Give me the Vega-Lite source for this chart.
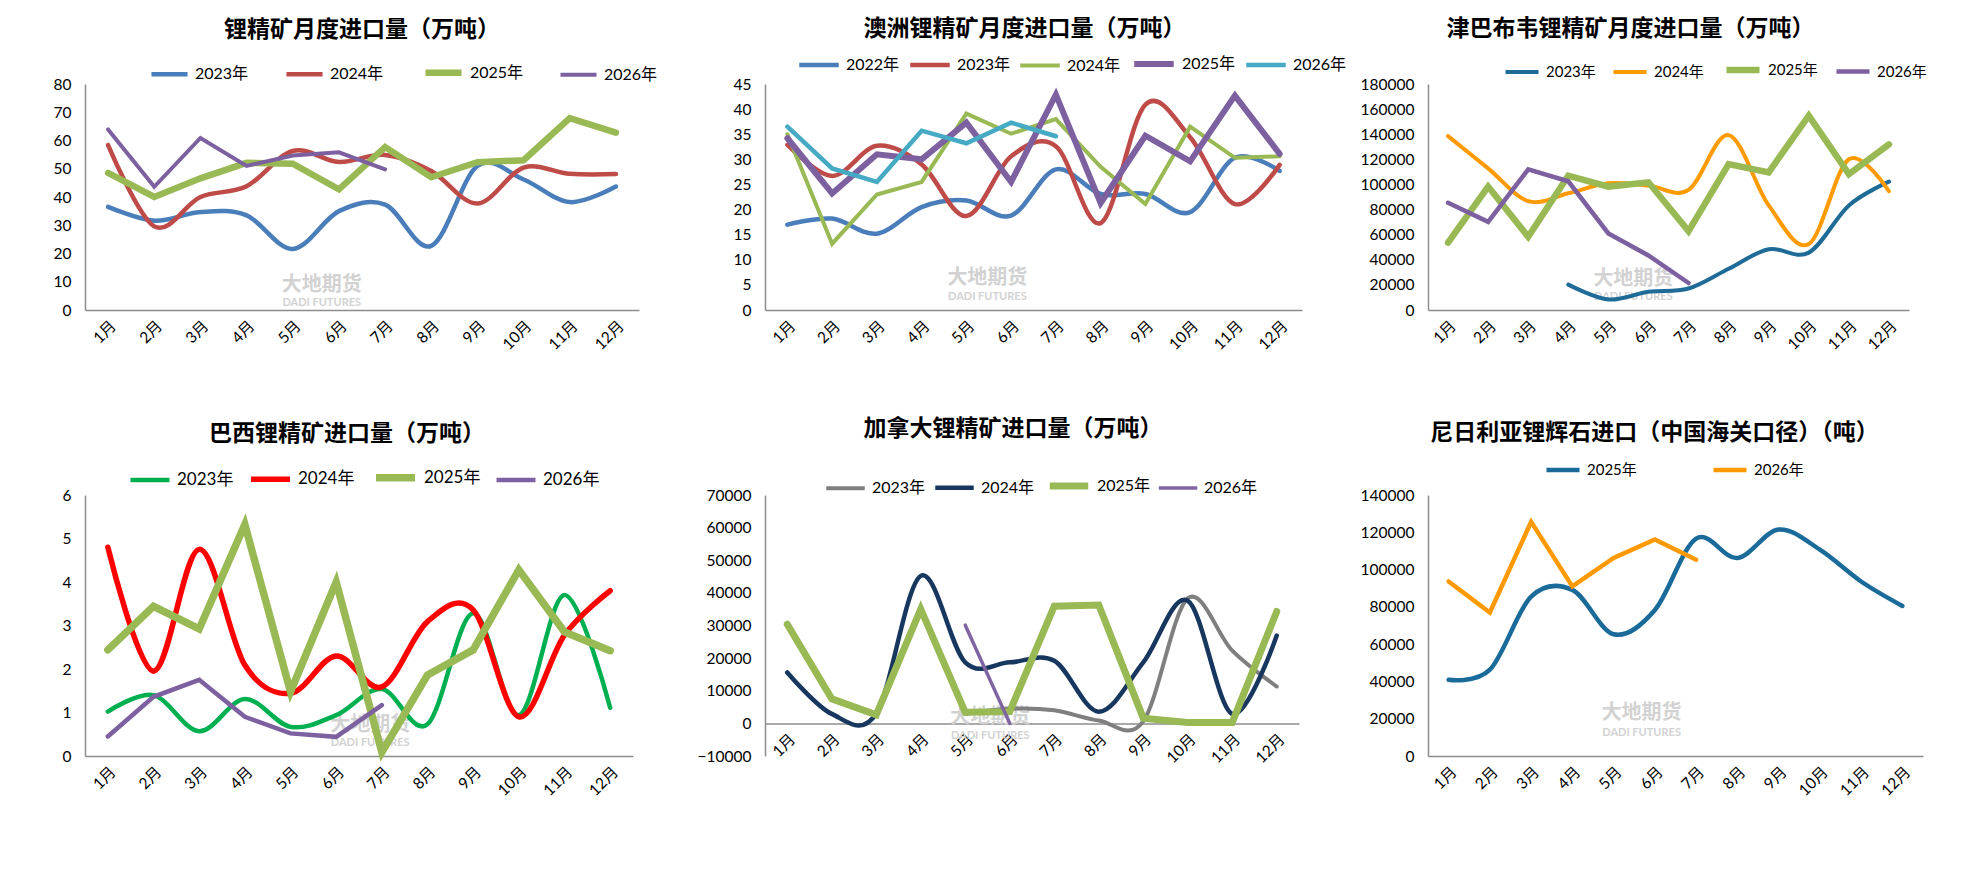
{
  "$schema": "https://vega.github.io/schema/vega-lite/v6.json",
  "background": "white",
  "padding": {"left": 53, "top": 18, "right": 5, "bottom": 5},
  "columns": 3,
  "bounds": "flush",
  "align": "each",
  "spacing": {"row": 185, "column": 126},
  "resolve": {
    "scale": {"color": "independent", "strokeWidth": "independent", "x": "independent", "y": "independent"},
    "legend": {"color": "independent", "strokeWidth": "independent"}
  },
  "config": {
    "view": {"stroke": null},
    "font": "Lato",
    "axis": {
      "title": null,
      "ticks": false,
      "grid": false,
      "labelFont": "Lato, Noto Sans CJK SC",
      "labelFontSize": 15.5,
      "labelColor": "#000000",
      "domainColor": "#8c8c8c",
      "domainWidth": 1.5
    },
    "axisX": {"labelAngle": -45, "labelPadding": 8},
    "axisY": {"labelPadding": 14},
    "legend": {
      "orient": "none",
      "direction": "horizontal",
      "symbolType": "stroke",
      "symbolStrokeWidth": 4,
      "labelFont": "Lato, Noto Sans CJK SC",
      "labelFontSize": 16,
      "labelColor": "#000000",
      "labelOffset": 5
    },
    "title": {
      "font": "Noto Sans CJK SC",
      "fontSize": 23,
      "fontWeight": "bold",
      "color": "#000000",
      "anchor": "middle",
      "frame": "group"
    },
    "line": {"strokeCap": "round"},
    "text": {"font": "Noto Sans CJK SC", "fontWeight": "bold", "align": "center", "color": "#d2d2d2"}
  },
  "datasets": {
    "d1": [
      {"m": "1月", "year": "2023年", "v": 36.5}, {"m": "2月", "year": "2023年", "v": 31.6}, {"m": "3月", "year": "2023年", "v": 34.7}, {"m": "4月", "year": "2023年", "v": 33.5}, {"m": "5月", "year": "2023年", "v": 21.6}, {"m": "6月", "year": "2023年", "v": 35}, {"m": "7月", "year": "2023年", "v": 37.3}, {"m": "8月", "year": "2023年", "v": 22.7}, {"m": "9月", "year": "2023年", "v": 51}, {"m": "10月", "year": "2023年", "v": 46.2}, {"m": "11月", "year": "2023年", "v": 38.2}, {"m": "12月", "year": "2023年", "v": 43.7},
      {"m": "1月", "year": "2024年", "v": 58.4}, {"m": "2月", "year": "2024年", "v": 29.6}, {"m": "3月", "year": "2024年", "v": 40}, {"m": "4月", "year": "2024年", "v": 43.8}, {"m": "5月", "year": "2024年", "v": 56.3}, {"m": "6月", "year": "2024年", "v": 52.4}, {"m": "7月", "year": "2024年", "v": 54.9}, {"m": "8月", "year": "2024年", "v": 49.2}, {"m": "9月", "year": "2024年", "v": 37.7}, {"m": "10月", "year": "2024年", "v": 50.4}, {"m": "11月", "year": "2024年", "v": 48.2}, {"m": "12月", "year": "2024年", "v": 48.1},
      {"m": "1月", "year": "2025年", "v": 48.5}, {"m": "2月", "year": "2025年", "v": 40}, {"m": "3月", "year": "2025年", "v": 46.6}, {"m": "4月", "year": "2025年", "v": 52.1}, {"m": "5月", "year": "2025年", "v": 51.8}, {"m": "6月", "year": "2025年", "v": 42.7}, {"m": "7月", "year": "2025年", "v": 57.7}, {"m": "8月", "year": "2025年", "v": 47}, {"m": "9月", "year": "2025年", "v": 52.3}, {"m": "10月", "year": "2025年", "v": 53}, {"m": "11月", "year": "2025年", "v": 67.9}, {"m": "12月", "year": "2025年", "v": 62.8},
      {"m": "1月", "year": "2026年", "v": 63.9}, {"m": "2月", "year": "2026年", "v": 43.6}, {"m": "3月", "year": "2026年", "v": 60.9}, {"m": "4月", "year": "2026年", "v": 51}, {"m": "5月", "year": "2026年", "v": 54.7}, {"m": "6月", "year": "2026年", "v": 55.8}, {"m": "7月", "year": "2026年", "v": 49.8}
    ],
    "d2": [
      {"m": "1月", "year": "2022年", "v": 17}, {"m": "2月", "year": "2022年", "v": 18.2}, {"m": "3月", "year": "2022年", "v": 15.2}, {"m": "4月", "year": "2022年", "v": 20.5}, {"m": "5月", "year": "2022年", "v": 21.8}, {"m": "6月", "year": "2022年", "v": 18.8}, {"m": "7月", "year": "2022年", "v": 28}, {"m": "8月", "year": "2022年", "v": 23.1}, {"m": "9月", "year": "2022年", "v": 23.1}, {"m": "10月", "year": "2022年", "v": 19.5}, {"m": "11月", "year": "2022年", "v": 30.3}, {"m": "12月", "year": "2022年", "v": 27.7},
      {"m": "1月", "year": "2023年", "v": 32.9}, {"m": "2月", "year": "2023年", "v": 26.7}, {"m": "3月", "year": "2023年", "v": 32.7}, {"m": "4月", "year": "2023年", "v": 29}, {"m": "5月", "year": "2023年", "v": 18.7}, {"m": "6月", "year": "2023年", "v": 30.6}, {"m": "7月", "year": "2023年", "v": 32.6}, {"m": "8月", "year": "2023年", "v": 17.3}, {"m": "9月", "year": "2023年", "v": 40.9}, {"m": "10月", "year": "2023年", "v": 34.4}, {"m": "11月", "year": "2023年", "v": 21.1}, {"m": "12月", "year": "2023年", "v": 28.9},
      {"m": "1月", "year": "2024年", "v": 35}, {"m": "2月", "year": "2024年", "v": 13.2}, {"m": "3月", "year": "2024年", "v": 23}, {"m": "4月", "year": "2024年", "v": 25.5}, {"m": "5月", "year": "2024年", "v": 39.1}, {"m": "6月", "year": "2024年", "v": 35.1}, {"m": "7月", "year": "2024年", "v": 38}, {"m": "8月", "year": "2024年", "v": 28.5}, {"m": "9月", "year": "2024年", "v": 21.1}, {"m": "10月", "year": "2024年", "v": 36.5}, {"m": "11月", "year": "2024年", "v": 30.3}, {"m": "12月", "year": "2024年", "v": 30.6},
      {"m": "1月", "year": "2025年", "v": 34.2}, {"m": "2月", "year": "2025年", "v": 23.2}, {"m": "3月", "year": "2025年", "v": 31}, {"m": "4月", "year": "2025年", "v": 30}, {"m": "5月", "year": "2025年", "v": 37.3}, {"m": "6月", "year": "2025年", "v": 25.5}, {"m": "7月", "year": "2025年", "v": 42.9}, {"m": "8月", "year": "2025年", "v": 21.3}, {"m": "9月", "year": "2025年", "v": 34.7}, {"m": "10月", "year": "2025年", "v": 29.6}, {"m": "11月", "year": "2025年", "v": 42.7}, {"m": "12月", "year": "2025年", "v": 31.1},
      {"m": "1月", "year": "2026年", "v": 36.5}, {"m": "2月", "year": "2026年", "v": 28.2}, {"m": "3月", "year": "2026年", "v": 25.5}, {"m": "4月", "year": "2026年", "v": 35.7}, {"m": "5月", "year": "2026年", "v": 33.2}, {"m": "6月", "year": "2026年", "v": 37.3}, {"m": "7月", "year": "2026年", "v": 34.6}
    ],
    "d3": [
      {"m": "4月", "year": "2023年", "v": 20200}, {"m": "5月", "year": "2023年", "v": 8400}, {"m": "6月", "year": "2023年", "v": 14500}, {"m": "7月", "year": "2023年", "v": 17100}, {"m": "8月", "year": "2023年", "v": 32800}, {"m": "9月", "year": "2023年", "v": 48400}, {"m": "10月", "year": "2023年", "v": 45700}, {"m": "11月", "year": "2023年", "v": 83300}, {"m": "12月", "year": "2023年", "v": 102200},
      {"m": "1月", "year": "2024年", "v": 138500}, {"m": "2月", "year": "2024年", "v": 112800}, {"m": "3月", "year": "2024年", "v": 86700}, {"m": "4月", "year": "2024年", "v": 93000}, {"m": "5月", "year": "2024年", "v": 100900}, {"m": "6月", "year": "2024年", "v": 99100}, {"m": "7月", "year": "2024年", "v": 95700}, {"m": "8月", "year": "2024年", "v": 139300}, {"m": "9月", "year": "2024年", "v": 83300}, {"m": "10月", "year": "2024年", "v": 52600}, {"m": "11月", "year": "2024年", "v": 120100}, {"m": "12月", "year": "2024年", "v": 94600},
      {"m": "1月", "year": "2025年", "v": 53600}, {"m": "2月", "year": "2025年", "v": 98300}, {"m": "3月", "year": "2025年", "v": 58300}, {"m": "4月", "year": "2025年", "v": 107000}, {"m": "5月", "year": "2025年", "v": 98300}, {"m": "6月", "year": "2025年", "v": 101700}, {"m": "7月", "year": "2025年", "v": 62800}, {"m": "8月", "year": "2025年", "v": 116200}, {"m": "9月", "year": "2025年", "v": 109600}, {"m": "10月", "year": "2025年", "v": 154800}, {"m": "11月", "year": "2025年", "v": 108300}, {"m": "12月", "year": "2025年", "v": 131900},
      {"m": "1月", "year": "2026年", "v": 85400}, {"m": "2月", "year": "2026年", "v": 70200}, {"m": "3月", "year": "2026年", "v": 112000}, {"m": "4月", "year": "2026年", "v": 102500}, {"m": "5月", "year": "2026年", "v": 61000}, {"m": "6月", "year": "2026年", "v": 43400}, {"m": "7月", "year": "2026年", "v": 21500}
    ],
    "d4": [
      {"m": "1月", "year": "2023年", "v": 1.02}, {"m": "2月", "year": "2023年", "v": 1.4}, {"m": "3月", "year": "2023年", "v": 0.57}, {"m": "4月", "year": "2023年", "v": 1.31}, {"m": "5月", "year": "2023年", "v": 0.67}, {"m": "6月", "year": "2023年", "v": 0.94}, {"m": "7月", "year": "2023年", "v": 1.54}, {"m": "8月", "year": "2023年", "v": 0.73}, {"m": "9月", "year": "2023年", "v": 3.28}, {"m": "10月", "year": "2023年", "v": 0.94}, {"m": "11月", "year": "2023年", "v": 3.7}, {"m": "12月", "year": "2023年", "v": 1.11},
      {"m": "1月", "year": "2024年", "v": 4.8}, {"m": "2月", "year": "2024年", "v": 1.95}, {"m": "3月", "year": "2024年", "v": 4.75}, {"m": "4月", "year": "2024年", "v": 2.09}, {"m": "5月", "year": "2024年", "v": 1.44}, {"m": "6月", "year": "2024年", "v": 2.3}, {"m": "7月", "year": "2024年", "v": 1.59}, {"m": "8月", "year": "2024年", "v": 3.09}, {"m": "9月", "year": "2024年", "v": 3.36}, {"m": "10月", "year": "2024年", "v": 0.9}, {"m": "11月", "year": "2024年", "v": 2.78}, {"m": "12月", "year": "2024年", "v": 3.8},
      {"m": "1月", "year": "2025年", "v": 2.44}, {"m": "2月", "year": "2025年", "v": 3.44}, {"m": "3月", "year": "2025年", "v": 2.92}, {"m": "4月", "year": "2025年", "v": 5.32}, {"m": "5月", "year": "2025年", "v": 1.48}, {"m": "6月", "year": "2025年", "v": 4}, {"m": "7月", "year": "2025年", "v": 0.09}, {"m": "8月", "year": "2025年", "v": 1.86}, {"m": "9月", "year": "2025年", "v": 2.44}, {"m": "10月", "year": "2025年", "v": 4.28}, {"m": "11月", "year": "2025年", "v": 2.85}, {"m": "12月", "year": "2025年", "v": 2.42},
      {"m": "1月", "year": "2026年", "v": 0.45}, {"m": "2月", "year": "2026年", "v": 1.36}, {"m": "3月", "year": "2026年", "v": 1.75}, {"m": "4月", "year": "2026年", "v": 0.9}, {"m": "5月", "year": "2026年", "v": 0.52}, {"m": "6月", "year": "2026年", "v": 0.44}, {"m": "7月", "year": "2026年", "v": 1.17}
    ],
    "d5": [
      {"m": "5月", "year": "2023年", "v": 2900}, {"m": "6月", "year": "2023年", "v": 4500}, {"m": "7月", "year": "2023年", "v": 4000}, {"m": "8月", "year": "2023年", "v": 900}, {"m": "9月", "year": "2023年", "v": 600}, {"m": "10月", "year": "2023年", "v": 38300}, {"m": "11月", "year": "2023年", "v": 22300}, {"m": "12月", "year": "2023年", "v": 11300},
      {"m": "1月", "year": "2024年", "v": 15600}, {"m": "2月", "year": "2024年", "v": 2900}, {"m": "3月", "year": "2024年", "v": 3000}, {"m": "4月", "year": "2024年", "v": 45200}, {"m": "5月", "year": "2024年", "v": 18700}, {"m": "6月", "year": "2024年", "v": 18700}, {"m": "7月", "year": "2024年", "v": 19200}, {"m": "8月", "year": "2024年", "v": 3600}, {"m": "9月", "year": "2024年", "v": 18700}, {"m": "10月", "year": "2024年", "v": 37600}, {"m": "11月", "year": "2024年", "v": 2900}, {"m": "12月", "year": "2024年", "v": 26900},
      {"m": "1月", "year": "2025年", "v": 30400}, {"m": "2月", "year": "2025年", "v": 7500}, {"m": "3月", "year": "2025年", "v": 2600}, {"m": "4月", "year": "2025年", "v": 35000}, {"m": "5月", "year": "2025年", "v": 3400}, {"m": "6月", "year": "2025年", "v": 3600}, {"m": "7月", "year": "2025年", "v": 35900}, {"m": "8月", "year": "2025年", "v": 36300}, {"m": "9月", "year": "2025年", "v": 1600}, {"m": "10月", "year": "2025年", "v": 300}, {"m": "11月", "year": "2025年", "v": 300}, {"m": "12月", "year": "2025年", "v": 34300},
      {"m": "5月", "year": "2026年", "v": 30100}, {"m": "6月", "year": "2026年", "v": 0}
    ],
    "d6": [
      {"m": "1月", "year": "2025年", "v": 40900}, {"m": "2月", "year": "2025年", "v": 46300}, {"m": "3月", "year": "2025年", "v": 85500}, {"m": "4月", "year": "2025年", "v": 89100}, {"m": "5月", "year": "2025年", "v": 65300}, {"m": "6月", "year": "2025年", "v": 78300}, {"m": "7月", "year": "2025年", "v": 116600}, {"m": "8月", "year": "2025年", "v": 106200}, {"m": "9月", "year": "2025年", "v": 121500}, {"m": "10月", "year": "2025年", "v": 110700}, {"m": "11月", "year": "2025年", "v": 93600}, {"m": "12月", "year": "2025年", "v": 80500},
      {"m": "1月", "year": "2026年", "v": 93600}, {"m": "2月", "year": "2026年", "v": 77000}, {"m": "3月", "year": "2026年", "v": 125600}, {"m": "4月", "year": "2026年", "v": 91000}, {"m": "5月", "year": "2026年", "v": 106200}, {"m": "6月", "year": "2026年", "v": 116100}, {"m": "7月", "year": "2026年", "v": 105300}
    ]
  },
  "concat": [
    {
      "width": 554, "height": 226,
      "title": {"text": "锂精矿月度进口量（万吨）", "dx": 0, "offset": 9},
      "data": {"name": "d1"},
      "encoding": {
        "x": {"field": "m", "type": "ordinal", "scale": {"type": "point", "domain": ["1月","2月","3月","4月","5月","6月","7月","8月","9月","10月","11月","12月"], "padding": 0.5}},
        "y": {"field": "v", "type": "quantitative", "scale": {"domain": [0, 80], "nice": false}, "axis": {"values": [0,10,20,30,40,50,60,70,80]}},
        "color": {"field": "year", "type": "nominal", "scale": {"domain": ["2023年","2024年","2025年","2026年"], "range": ["#4a7ebb","#be4b48","#98b954","#7d60a0"]}, "legend": {"title": null, "legendX": 64, "legendY": -33, "columnPadding": 28, "symbolSize": 1300}},
        "strokeWidth": {"field": "year", "type": "nominal", "scale": {"type": "ordinal", "domain": ["2023年","2024年","2025年","2026年"], "range": [4.5, 4.5, 6.5, 4]}, "legend": null}
      },
      "layer": [
        {"data": {"values": [{"m": "5月", "v": 9.0, "t": "大地期货"}]}, "mark": {"type": "text", "fontSize": 20, "dx": 29}, "encoding": {"text": {"field": "t"}, "color": {"value": "#d2d2d2"}, "strokeWidth": {"value": 0}}},
        {"data": {"values": [{"m": "5月", "v": 2.4, "t": "DADI FUTURES"}]}, "mark": {"type": "text", "fontSize": 11, "dx": 29, "font": "Lato"}, "encoding": {"text": {"field": "t"}, "color": {"value": "#d2d2d2"}, "strokeWidth": {"value": 0}}},
        {"transform": [{"filter": {"field": "year", "oneOf": ["2023年","2024年"]}}], "mark": {"type": "line", "interpolate": "cardinal"}},
        {"transform": [{"filter": {"field": "year", "oneOf": ["2025年","2026年"]}}], "mark": {"type": "line"}}
      ]
    },
    {
      "width": 537, "height": 226,
      "title": {"text": "澳洲锂精矿月度进口量（万吨）", "dx": -9, "offset": 0},
      "data": {"name": "d2"},
      "encoding": {
        "x": {"field": "m", "type": "ordinal", "scale": {"type": "point", "domain": ["1月","2月","3月","4月","5月","6月","7月","8月","9月","10月","11月","12月"], "padding": 0.5}},
        "y": {"field": "v", "type": "quantitative", "scale": {"domain": [0, 45], "nice": false}, "axis": {"values": [0,5,10,15,20,25,30,35,40,45]}},
        "color": {"field": "year", "type": "nominal", "scale": {"domain": ["2022年","2023年","2024年","2025年","2026年"], "range": ["#4a7ebb","#be4b48","#98b954","#7d60a0","#46aac5"]}, "legend": {"title": null, "legendX": 32, "legendY": -43, "columnPadding": 1, "symbolSize": 1560}},
        "strokeWidth": {"field": "year", "type": "nominal", "scale": {"type": "ordinal", "domain": ["2022年","2023年","2024年","2025年","2026年"], "range": [4.5, 4.5, 4, 6, 4.5]}, "legend": null}
      },
      "layer": [
        {"data": {"values": [{"m": "5月", "v": 6.3, "t": "大地期货"}]}, "mark": {"type": "text", "fontSize": 20, "dx": 21}, "encoding": {"text": {"field": "t"}, "color": {"value": "#d2d2d2"}, "strokeWidth": {"value": 0}}},
        {"data": {"values": [{"m": "5月", "v": 2.6, "t": "DADI FUTURES"}]}, "mark": {"type": "text", "fontSize": 11, "dx": 21, "font": "Lato"}, "encoding": {"text": {"field": "t"}, "color": {"value": "#d2d2d2"}, "strokeWidth": {"value": 0}}},
        {"transform": [{"filter": {"field": "year", "oneOf": ["2022年","2023年"]}}], "mark": {"type": "line", "interpolate": "cardinal"}},
        {"transform": [{"filter": {"field": "year", "oneOf": ["2024年","2025年","2026年"]}}], "mark": {"type": "line"}}
      ]
    },
    {
      "width": 481, "height": 226,
      "title": {"text": "津巴布韦锂精矿月度进口量（万吨）", "dx": -38, "offset": 9},
      "data": {"name": "d3"},
      "encoding": {
        "x": {"field": "m", "type": "ordinal", "scale": {"type": "point", "domain": ["1月","2月","3月","4月","5月","6月","7月","8月","9月","10月","11月","12月"], "padding": 0.5}},
        "y": {"field": "v", "type": "quantitative", "scale": {"domain": [0, 180000], "nice": false}, "axis": {"values": [0,20000,40000,60000,80000,100000,120000,140000,160000,180000], "format": "d"}},
        "color": {"field": "year", "type": "nominal", "scale": {"domain": ["2023年","2024年","2025年","2026年"], "range": ["#1f6b98","#ff9a00","#98b954","#7d60a0"]}, "legend": {"title": null, "legendX": 75, "legendY": -34, "columnPadding": 9, "symbolSize": 1090, "labelFontSize": 15}},
        "strokeWidth": {"field": "year", "type": "nominal", "scale": {"type": "ordinal", "domain": ["2023年","2024年","2025年","2026年"], "range": [4, 4, 6.5, 4.5]}, "legend": null}
      },
      "layer": [
        {"data": {"values": [{"m": "5月", "v": 25000, "t": "大地期货"}]}, "mark": {"type": "text", "fontSize": 20, "dx": 25}, "encoding": {"text": {"field": "t"}, "color": {"value": "#d2d2d2"}, "strokeWidth": {"value": 0}}},
        {"data": {"values": [{"m": "5月", "v": 10000, "t": "DADI FUTURES"}]}, "mark": {"type": "text", "fontSize": 11, "dx": 25, "font": "Lato"}, "encoding": {"text": {"field": "t"}, "color": {"value": "#d2d2d2"}, "strokeWidth": {"value": 0}}},
        {"transform": [{"filter": {"field": "year", "oneOf": ["2023年","2024年"]}}], "mark": {"type": "line", "interpolate": "cardinal"}},
        {"transform": [{"filter": {"field": "year", "oneOf": ["2025年","2026年"]}}], "mark": {"type": "line"}}
      ]
    },
    {
      "width": 548, "height": 261,
      "title": {"text": "巴西锂精矿进口量（万吨）", "dx": -12, "offset": 8},
      "data": {"name": "d4"},
      "encoding": {
        "x": {"field": "m", "type": "ordinal", "scale": {"type": "point", "domain": ["1月","2月","3月","4月","5月","6月","7月","8月","9月","10月","11月","12月"], "padding": 0.5}},
        "y": {"field": "v", "type": "quantitative", "scale": {"domain": [0, 6], "nice": false}, "axis": {"values": [0,1,2,3,4,5,6]}},
        "color": {"field": "year", "type": "nominal", "scale": {"domain": ["2023年","2024年","2025年","2026年"], "range": ["#00b050","#ff0000","#98b954","#7d60a0"]}, "legend": {"title": null, "legendX": 43, "legendY": -41, "columnPadding": 6, "symbolSize": 1520, "labelFontSize": 17}},
        "strokeWidth": {"field": "year", "type": "nominal", "scale": {"type": "ordinal", "domain": ["2023年","2024年","2025年","2026年"], "range": [4.5, 5.5, 7.5, 4.5]}, "legend": null}
      },
      "layer": [
        {"data": {"values": [{"m": "6月", "v": 0.72, "t": "大地期货"}]}, "mark": {"type": "text", "fontSize": 20, "dx": 34}, "encoding": {"text": {"field": "t"}, "color": {"value": "#d2d2d2"}, "strokeWidth": {"value": 0}}},
        {"data": {"values": [{"m": "6月", "v": 0.29, "t": "DADI FUTURES"}]}, "mark": {"type": "text", "fontSize": 11, "dx": 34, "font": "Lato"}, "encoding": {"text": {"field": "t"}, "color": {"value": "#d2d2d2"}, "strokeWidth": {"value": 0}}},
        {"transform": [{"filter": {"field": "year", "oneOf": ["2023年","2024年"]}}], "mark": {"type": "line", "interpolate": "cardinal"}},
        {"transform": [{"filter": {"field": "year", "oneOf": ["2025年","2026年"]}}], "mark": {"type": "line"}}
      ]
    },
    {
      "width": 534, "height": 261,
      "title": {"text": "加拿大锂精矿进口量（万吨）", "dx": -19, "offset": 22},
      "data": {"name": "d5"},
      "encoding": {
        "x": {"field": "m", "type": "ordinal", "scale": {"type": "point", "domain": ["1月","2月","3月","4月","5月","6月","7月","8月","9月","10月","11月","12月"], "padding": 0.5}, "axis": {"offset": -32.6}},
        "y": {"field": "v", "type": "quantitative", "scale": {"domain": [-10000, 70000], "nice": false}, "axis": {"values": [-10000,0,10000,20000,30000,40000,50000,60000,70000], "format": "d"}},
        "color": {"field": "year", "type": "nominal", "scale": {"domain": ["2023年","2024年","2025年","2026年"], "range": ["#7f7f7f","#17375e","#98b954","#8064a2"]}, "legend": {"title": null, "legendX": 59, "legendY": -32, "columnPadding": 0, "symbolSize": 1480}},
        "strokeWidth": {"field": "year", "type": "nominal", "scale": {"type": "ordinal", "domain": ["2023年","2024年","2025年","2026年"], "range": [4, 4.5, 7, 3.5]}, "legend": null}
      },
      "layer": [
        {"data": {"values": [{"m": "5月", "v": 1900, "t": "大地期货"}]}, "mark": {"type": "text", "fontSize": 20, "dx": 25}, "encoding": {"text": {"field": "t"}, "color": {"value": "#d2d2d2"}, "strokeWidth": {"value": 0}}},
        {"data": {"values": [{"m": "5月", "v": -4000, "t": "DADI FUTURES"}]}, "mark": {"type": "text", "fontSize": 11, "dx": 25, "font": "Lato"}, "encoding": {"text": {"field": "t"}, "color": {"value": "#d2d2d2"}, "strokeWidth": {"value": 0}}},
        {"transform": [{"filter": {"field": "year", "oneOf": ["2023年","2024年"]}}], "mark": {"type": "line", "interpolate": "cardinal"}},
        {"transform": [{"filter": {"field": "year", "oneOf": ["2025年","2026年"]}}], "mark": {"type": "line"}}
      ]
    },
    {
      "width": 495, "height": 261,
      "title": {"text": "尼日利亚锂辉石进口（中国海关口径）（吨）", "dx": -21, "offset": 6},
      "data": {"name": "d6"},
      "encoding": {
        "x": {"field": "m", "type": "ordinal", "scale": {"type": "point", "domain": ["1月","2月","3月","4月","5月","6月","7月","8月","9月","10月","11月","12月"], "padding": 0.5}},
        "y": {"field": "v", "type": "quantitative", "scale": {"domain": [0, 140000], "nice": false}, "axis": {"values": [0,20000,40000,60000,80000,100000,120000,140000], "format": "d"}},
        "color": {"field": "year", "type": "nominal", "scale": {"domain": ["2025年","2026年"], "range": ["#1a6a9a","#ff9900"]}, "legend": {"title": null, "legendX": 116, "legendY": -44, "columnPadding": 67, "symbolSize": 1090, "labelFontSize": 15}},
        "strokeWidth": {"field": "year", "type": "nominal", "scale": {"type": "ordinal", "domain": ["2025年","2026年"], "range": [4.5, 4.5]}, "legend": null}
      },
      "layer": [
        {"data": {"values": [{"m": "5月", "v": 23000, "t": "大地期货"}]}, "mark": {"type": "text", "fontSize": 20, "dx": 28}, "encoding": {"text": {"field": "t"}, "color": {"value": "#d2d2d2"}, "strokeWidth": {"value": 0}}},
        {"data": {"values": [{"m": "5月", "v": 12500, "t": "DADI FUTURES"}]}, "mark": {"type": "text", "fontSize": 11, "dx": 28, "font": "Lato"}, "encoding": {"text": {"field": "t"}, "color": {"value": "#d2d2d2"}, "strokeWidth": {"value": 0}}},
        {"transform": [{"filter": {"field": "year", "equal": "2025年"}}], "mark": {"type": "line", "interpolate": "cardinal"}},
        {"transform": [{"filter": {"field": "year", "equal": "2026年"}}], "mark": {"type": "line"}}
      ]
    }
  ]
}
